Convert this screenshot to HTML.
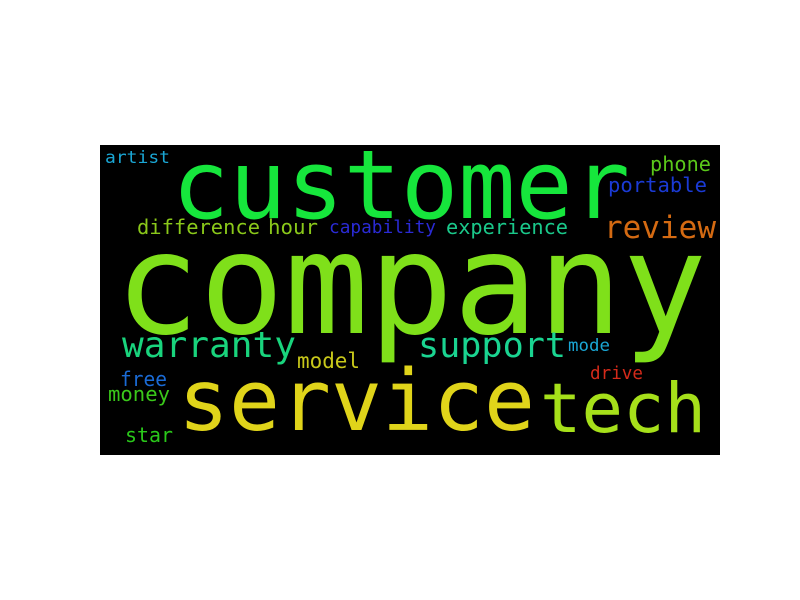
<!DOCTYPE html>
<html><head><meta charset="utf-8"><style>
html,body{margin:0;padding:0;background:#fff;width:800px;height:600px;overflow:hidden}
svg text{font-family:"DejaVu Sans Mono","Liberation Mono",monospace}
</style></head><body>
<svg id="wc" width="800" height="600" viewBox="0 0 800 600" xmlns="http://www.w3.org/2000/svg">
<rect x="100" y="145" width="620" height="310" fill="#000"/>
</svg>
<script>
const words = ["artist","customer","phone","portable","difference","hour","capability","experience","review","company","warranty","support","mode","model","drive","free","money","service","tech","star"];
const sizes = [17,95,20,20,20,20,18,20,31,141,36,35,17,21,18,20,20,85,69,20];
const colors = ["#1aa6d4","#16e63c","#5ac81a","#1a3ad4","#8ac81a","#8ac81a","#2a2ad4","#1ac88a","#d46a12","#7fe01a","#19d47d","#1ad491","#1aa6d4","#c8c81a","#d42a1a","#1a6ad4","#3ac81a","#e0d41a","#a6e01a","#2ac81a"];
const xs = [105,172,650,608,137,268,329,446,604,115,122,418,568,297,590,120,108,178,540,125];
const x2 = [170,630,711,707,260,318,436,568,716,707,296,566,610,360,643,167,170,535,706,173];
const ys = [163,218,171,192,234,234,233,234,238,333,357,357,351,368,379,386,401,430,432,442];
const svg = document.getElementById('wc');
words.forEach((w,i)=>{
  const t = document.createElementNS('http://www.w3.org/2000/svg','text');
  
  
  t.setAttribute('x', xs[i]);
  t.setAttribute('y', ys[i]);
  t.setAttribute('font-size', sizes[i]);
  t.setAttribute('fill', colors[i]);
  t.setAttribute('textLength', x2[i]-xs[i]);
  t.setAttribute('lengthAdjust', 'spacingAndGlyphs');
  t.textContent = w;
  svg.appendChild(t);
});
</script>
</body></html>
